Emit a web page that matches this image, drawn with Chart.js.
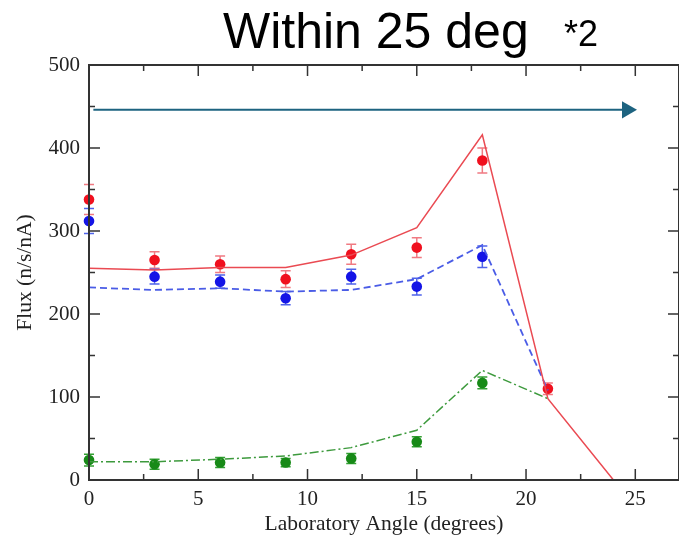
<!DOCTYPE html>
<html>
<head>
<meta charset="utf-8">
<script src="https://cdn.jsdelivr.net/npm/chart.js@4"></script>
<style>
  body { margin: 0; background: #fff; }
  canvas { display: block; }
</style>
</head>
<body>
<canvas id="flux" width="679" height="539"></canvas>
<script>
// measured angles (degrees)
const angles = [0, 3, 6, 9, 12, 15, 18, 21];
// measured flux with errors
const redFlux = [338, 265, 260, 242, 272, 280, 385, 110];
const redErr = [18, 10, 10, 10, 12, 12, 15, 7];
const blueFlux = [312, 245, 239, 219, 245, 233, 269];
const blueErr = [15, 9, 8, 8, 9, 10, 13];
const greenFlux = [24, 19, 21, 21, 26, 46, 117];
const greenErr = [7, 6, 6, 5, 6, 6, 7];
// calculated curves
const redCalcAngles = [0, 3, 6, 9, 12, 15, 18, 21, 24];
const redCalc = [255, 253, 256, 256, 271, 304, 416, 98, 0];
const blueCalc = [232, 229, 231, 227, 229, 242, 283, 108];
const greenCalc = [22, 22, 25, 29, 39, 60, 132, 98];
// "within 25 deg" arrow
const arrowX = [0.2, 24.62];
const arrowY = [446, 446];

const xMajor = 5, xMinor = 2.5;
const yMajor = 100, yMinor = 50;

const serif = '"Liberation Serif", "Times New Roman", serif';
const pts = (xs, ys) => ys.map((y, i) => ({ x: xs[i], y: y }));

//error bars + frame + inward ticks + title
const decorPlugin = {
  id: "decor",
  beforeDatasetsDraw(chart) {
    const ctx = chart.ctx;
    const xs = chart.scales.x, ys = chart.scales.y;
    chart.data.datasets.forEach((ds) => {
      if (!ds.errors) return;
      ctx.save();
      ctx.strokeStyle = ds.errorColor;
      ctx.lineWidth = 1.5;
      ds.data.forEach((p, i) => {
        const px = xs.getPixelForValue(p.x);
        const top = ys.getPixelForValue(p.y + ds.errors[i]);
        const bot = ys.getPixelForValue(p.y - ds.errors[i]);
        ctx.beginPath();
        ctx.moveTo(px, top); ctx.lineTo(px, bot);
        ctx.moveTo(px - 5, top); ctx.lineTo(px + 5, top);
        ctx.moveTo(px - 5, bot); ctx.lineTo(px + 5, bot);
        ctx.stroke();
      });
      ctx.restore();
    });
  },
  afterDraw(chart) {
    const ctx = chart.ctx;
    const a = chart.chartArea;
    const xs = chart.scales.x, ys = chart.scales.y;
    ctx.save();
    ctx.strokeStyle = "#333";
    ctx.lineWidth = 2;
    ctx.strokeRect(a.left, a.top, a.right - a.left, a.bottom - a.top);
    ctx.lineWidth = 1.5;
    ctx.beginPath();
    xs.ticks.forEach((t) => {
      if (Math.abs(t.value / xMinor - Math.round(t.value / xMinor)) > 1e-6) return;
      const len = t.value % xMajor === 0 ? 11 : 6;
      const px = xs.getPixelForValue(t.value);
      ctx.moveTo(px, a.bottom); ctx.lineTo(px, a.bottom - len);
      ctx.moveTo(px, a.top); ctx.lineTo(px, a.top + len);
    });
    ys.ticks.forEach((t) => {
      if (t.value % yMinor !== 0) return;
      const len = t.value % yMajor === 0 ? 11 : 6;
      const py = ys.getPixelForValue(t.value);
      ctx.moveTo(a.left, py); ctx.lineTo(a.left + len, py);
      ctx.moveTo(a.right, py); ctx.lineTo(a.right - len, py);
    });
    ctx.stroke();
    //title
    ctx.fillStyle = "#000";
    ctx.textBaseline = "alphabetic";
    ctx.font = '50px "Liberation Sans", Arial, sans-serif';
    ctx.fillText("Within 25 deg", 223, 48);
    ctx.font = '36px "Liberation Sans", Arial, sans-serif';
    ctx.fillText("*2", 564, 46);
    ctx.restore();
  },
};

let myChart = new Chart(document.getElementById("flux"), {
  type: "scatter",
  plugins: [decorPlugin],
  data: {
    datasets: [
      {
        data: pts(arrowX, arrowY),
        showLine: true,
        borderColor: "#1d6380",
        backgroundColor: "#1d6380",
        borderWidth: 2,
        pointRadius: [0, 10],
        pointStyle: "triangle",
        rotation: 90,
        pointBorderWidth: 0,
      },
      {
        data: pts(redCalcAngles, redCalc),
        showLine: true,
        borderColor: "#ea4a52",
        borderWidth: 1.5,
        pointRadius: 0,
      },
      {
        data: pts(angles, blueCalc),
        showLine: true,
        borderColor: "#4a5ce6",
        borderWidth: 1.8,
        borderDash: [7, 4],
        pointRadius: 0,
      },
      {
        data: pts(angles, greenCalc),
        showLine: true,
        borderColor: "#3d9a3d",
        borderWidth: 1.5,
        borderDash: [9, 3, 2, 3],
        pointRadius: 0,
      },
      {
        data: pts(angles, redFlux),
        errors: redErr,
        errorColor: "#f07a82",
        backgroundColor: "#f0101e",
        borderWidth: 0,
        pointRadius: 5.3,
        clip: false,
      },
      {
        data: pts(angles, blueFlux),
        errors: blueErr,
        errorColor: "#4f63ea",
        backgroundColor: "#1414e6",
        borderWidth: 0,
        pointRadius: 5.3,
        clip: false,
      },
      {
        data: pts(angles, greenFlux),
        errors: greenErr,
        errorColor: "#33a033",
        backgroundColor: "#178a17",
        borderWidth: 0,
        pointRadius: 5.3,
        clip: false,
      },
    ],
  },
  options: {
    responsive: false,
    animation: false,
    layout: { autoPadding: false, padding: { top: 65, right: 0, left: 0, bottom: 0 } },
    plugins: {
      legend: { display: false },
      tooltip: { enabled: false },
    },
    scales: {
      x: {
        type: "linear",
        min: 0,
        max: 27,
        afterFit: (s) => { s.height = 59; s.paddingRight = 0; },
        grid: { display: false, drawTicks: false },
        border: { display: false },
        ticks: {
          stepSize: xMinor,
          padding: 7,
          maxRotation: 0,
          autoSkip: false,
          color: "#222",
          font: { family: serif, size: 21 },
          callback: (v) => (v % xMajor === 0 ? v : ""),
        },
        title: {
          display: true,
          text: "Laboratory Angle (degrees)",
          color: "#222",
          padding: { top: 2, bottom: 2 },
          font: { family: serif, size: 21.5 },
        },
      },
      y: {
        min: 0,
        max: 500,
        afterFit: (s) => { s.width = 89; },
        grid: { display: false, drawTicks: false },
        border: { display: false },
        ticks: {
          stepSize: yMinor,
          padding: 9,
          autoSkip: false,
          color: "#222",
          font: { family: serif, size: 21 },
          callback: (v) => (v % yMajor === 0 ? v : ""),
        },
        title: {
          display: true,
          text: "Flux (n/s/nA)",
          color: "#222",
          padding: { top: 12, bottom: 0 },
          font: { family: serif, size: 21.5 },
        },
      },
    },
  },
});
</script>
</body>
</html>
